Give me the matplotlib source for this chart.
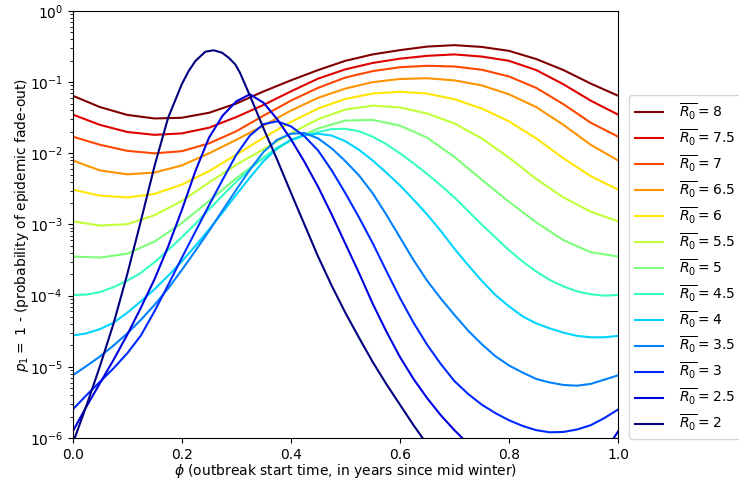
import numpy as np
import matplotlib
matplotlib.use("Agg")
import matplotlib.pyplot as plt

# Outbreak start time (fraction of a year since mid winter)
phi = [0.00, 0.05, 0.10, 0.15, 0.20, 0.25, 0.30, 0.35, 0.40, 0.45, 0.50,
       0.55, 0.60, 0.65, 0.70, 0.75, 0.80, 0.85, 0.90, 0.95, 1.00]
phi_fine = [0.000, 0.025, 0.050, 0.075, 0.100, 0.125, 0.150, 0.175, 0.200, 0.225,
            0.250, 0.275, 0.300, 0.325, 0.350, 0.375, 0.400, 0.425, 0.450, 0.475,
            0.500, 0.525, 0.550, 0.575, 0.600, 0.625, 0.650, 0.675, 0.700, 0.725,
            0.750, 0.775, 0.800, 0.825, 0.850, 0.875, 0.900, 0.925, 0.950, 0.975, 1.000]

# log10 of p1 for each mean R0
log_p_r8 = [-1.19, -1.35, -1.46, -1.51, -1.50, -1.43, -1.30, -1.13, -0.975, -0.83, -0.70,
            -0.61, -0.55, -0.50, -0.48, -0.505, -0.56, -0.675, -0.83, -1.02, -1.19]
log_p_r75 = [-1.455, -1.60, -1.70, -1.74, -1.72, -1.64, -1.49, -1.32, -1.13, -0.95, -0.82,
             -0.73, -0.67, -0.63, -0.61, -0.64, -0.70, -0.83, -1.03, -1.26, -1.455]
log_p_r7 = [-1.765, -1.88, -1.965, -2.00, -1.97, -1.86, -1.69, -1.47, -1.26, -1.08, -0.935,
            -0.845, -0.79, -0.77, -0.78, -0.825, -0.92, -1.08, -1.31, -1.57, -1.765]
log_p_r65 = [-2.10, -2.24, -2.295, -2.27, -2.17, -2.00, -1.81, -1.61, -1.40, -1.22, -1.09,
             -1.00, -0.955, -0.945, -0.975, -1.045, -1.17, -1.35, -1.60, -1.88, -2.10]
log_p_r6 = [-2.51, -2.595, -2.62, -2.57, -2.44, -2.25, -2.02, -1.78, -1.56, -1.37, -1.235,
            -1.16, -1.135, -1.16, -1.24, -1.37, -1.55, -1.79, -2.07, -2.32, -2.51]
log_p_r55 = [-2.955, -3.015, -2.995, -2.87, -2.67, -2.41, -2.16, -1.94, -1.72, -1.52, -1.385,
             -1.33, -1.355, -1.44, -1.58, -1.79, -2.06, -2.36, -2.62, -2.82, -2.955]
log_p_r5 = [-3.45, -3.465, -3.41, -3.24, -2.98, -2.67, -2.35, -2.06, -1.82, -1.65, -1.54,
            -1.53, -1.61, -1.78, -2.05, -2.37, -2.68, -2.97, -3.22, -3.39, -3.45]

log_p_r45 = [-3.99, -3.985, -3.95, -3.88, -3.79, -3.68, -3.53, -3.36, -3.18, -2.99,
             -2.79, -2.59, -2.40, -2.22, -2.06, -1.92, -1.82, -1.75, -1.70, -1.66,
             -1.655, -1.69, -1.765, -1.87, -2.00, -2.14, -2.29, -2.45, -2.62, -2.81,
             -3.00, -3.18, -3.36, -3.52, -3.66, -3.78, -3.87, -3.94, -3.98, -4.00, -3.99]
log_p_r4 = [-4.56, -4.53, -4.47, -4.38, -4.24, -4.08, -3.91, -3.72, -3.52, -3.30,
            -3.07, -2.83, -2.58, -2.34, -2.11, -1.93, -1.81, -1.745, -1.725, -1.75,
            -1.83, -1.95, -2.10, -2.27, -2.45, -2.65, -2.86, -3.09, -3.34, -3.57,
            -3.79, -3.99, -4.15, -4.29, -4.39, -4.46, -4.52, -4.565, -4.585, -4.585, -4.565]
log_p_r35 = [-5.12, -4.99, -4.855, -4.70, -4.53, -4.34, -4.13, -3.90, -3.64, -3.37,
             -3.09, -2.80, -2.51, -2.23, -1.98, -1.81, -1.725, -1.715, -1.79, -1.93,
             -2.11, -2.31, -2.56, -2.86, -3.18, -3.50, -3.79, -4.04, -4.27, -4.49,
             -4.68, -4.85, -4.98, -5.08, -5.17, -5.22, -5.255, -5.265, -5.24, -5.18, -5.12]
log_p_r3 = [-5.60, -5.40, -5.21, -5.02, -4.81, -4.56, -4.22, -3.85, -3.47, -3.10,
            -2.73, -2.37, -2.02, -1.75, -1.59, -1.55, -1.62, -1.76, -1.96, -2.24,
            -2.56, -2.90, -3.26, -3.65, -4.03, -4.38, -4.69, -4.96, -5.20, -5.38,
            -5.53, -5.65, -5.75, -5.83, -5.89, -5.92, -5.915, -5.88, -5.82, -5.72, -5.60]
log_p_r25 = [-5.91, -5.56, -5.23, -4.90, -4.55, -4.17, -3.77, -3.31, -2.80, -2.25,
             -1.78, -1.47, -1.27, -1.17, -1.29, -1.52, -1.80, -2.12, -2.47, -2.86,
             -3.27, -3.68, -4.11, -4.50, -4.86, -5.17, -5.44, -5.68, -5.89, -6.08,
             -6.25, -6.40, -6.52, -6.61, -6.68, -6.70, -6.68, -6.60, -6.42, -6.20, -5.91]

phi_r2 = [0.000, 0.025, 0.050, 0.075, 0.100, 0.125, 0.150, 0.175, 0.200, 0.2127,
          0.225, 0.2432, 0.2586, 0.2738, 0.286, 0.298, 0.307, 0.3165, 0.325, 0.350,
          0.375, 0.400, 0.425, 0.450, 0.475, 0.500, 0.525, 0.550, 0.575, 0.600,
          0.625, 0.650, 0.700, 0.800, 0.900, 0.950, 1.000]
log_p_r2 = [-6.08, -5.55, -4.99, -4.39, -3.70, -2.95, -2.18, -1.50, -1.03, -0.843,
            -0.703, -0.572, -0.552, -0.586, -0.656, -0.749, -0.871, -1.04, -1.19, -1.65,
            -2.09, -2.55, -3.00, -3.45, -3.86, -4.24, -4.59, -4.93, -5.24, -5.53,
            -5.82, -6.09, -6.60, -7.40, -7.50, -7.10, -6.08]

r0_values = [8, 7.5, 7, 6.5, 6, 5.5, 5, 4.5, 4, 3.5, 3, 2.5, 2]
r0_labels = ["8", "7.5", "7", "6.5", "6", "5.5", "5", "4.5", "4", "3.5", "3", "2.5", "2"]
series = [
    (phi, log_p_r8), (phi, log_p_r75), (phi, log_p_r7), (phi, log_p_r65),
    (phi, log_p_r6), (phi, log_p_r55), (phi, log_p_r5), (phi_fine, log_p_r45),
    (phi_fine, log_p_r4), (phi_fine, log_p_r35), (phi_fine, log_p_r3),
    (phi_fine, log_p_r25), (phi_r2, log_p_r2),
]

fig = plt.figure(figsize=(7.39, 4.84), dpi=100)
ax = fig.add_axes([72.7 / 739, 46 / 484, 545.3 / 739, 427 / 484])

cmap = plt.cm.jet
for r0, lab, (x, lp) in zip(r0_values, r0_labels, series):
    color = cmap((r0 - 2) / 6)
    ax.plot(x, 10 ** np.asarray(lp), color=color, lw=1.5,
            label=r"$\overline{R_0} = %s$" % lab)

ax.set_yscale("log")
ax.set_xlim(0, 1)
ax.set_ylim(1e-6, 1)
ax.set_xlabel(r"$\phi$ (outbreak start time, in years since mid winter)", labelpad=0)
ax.set_ylabel(r"$p_1 =$ 1 - (probability of epidemic fade-out)", labelpad=-1)
ax.legend(loc="center left", bbox_to_anchor=(1.008, 0.400), labelspacing=0.38,
          handletextpad=1.2)

fig.savefig("out.png", dpi=100)
